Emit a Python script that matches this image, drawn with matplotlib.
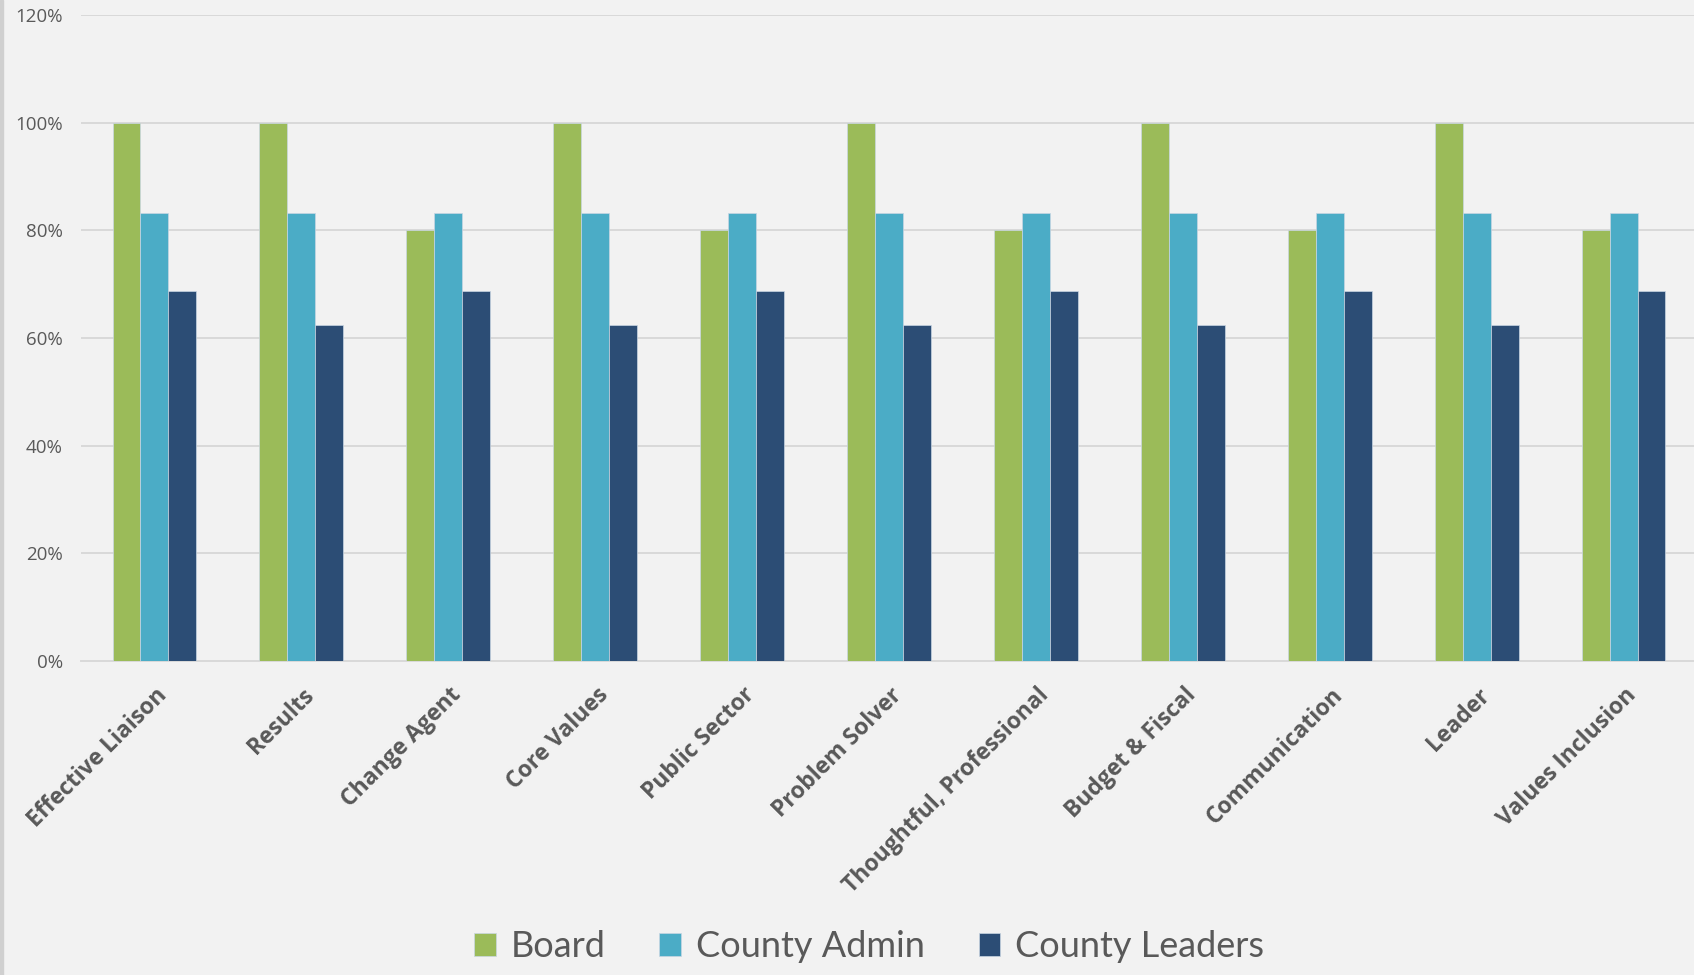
import numpy as np
import matplotlib.pyplot as plt
import matplotlib.transforms as mtransforms
from matplotlib.patches import Rectangle
from matplotlib.ticker import PercentFormatter

# data
categories = ['Effective Liaison', 'Results', 'Change Agent', 'Core Values', 'Public Sector',
              'Problem Solver', 'Thoughtful, Professional', 'Budget & Fiscal', 'Communication',
              'Leader', 'Values Inclusion']
board = [100, 100, 80, 100, 80, 100, 80, 100, 80, 100, 80]
county_admin = [83.3, 83.3, 83.3, 83.3, 83.3, 83.3, 83.3, 83.3, 83.3, 83.3, 83.3]
county_leaders = [68.75, 62.5, 68.75, 62.5, 68.75, 62.5, 68.75, 62.5, 68.75, 62.5, 68.75]
series_names = ['Board', 'County Admin', 'County Leaders']
colors = ['#9BBB59', '#4BACC6', '#2C4D75']

bg = '#F2F2F2'
txt = '#595959'

fig = plt.figure(figsize=(16.94, 9.75), dpi=100, facecolor=bg)
ax = fig.add_axes([0.0478, 0.322, 0.954, 0.6626])
ax.set_facecolor(bg)

x = np.arange(len(categories))
w = 0.19
for k, (vals, name, col) in enumerate(zip([board, county_admin, county_leaders], series_names, colors)):
    ax.bar(x + (k - 1) * w, vals, width=w, color=col, edgecolor='#C9D6E3', linewidth=0.5,
           label=name, zorder=3)

ax.set_xlim(-0.5, len(categories) - 0.5)
ax.set_ylim(0, 120)
ax.set_yticks(np.arange(0, 121, 20))
ax.yaxis.set_major_formatter(PercentFormatter(decimals=0))
ax.grid(axis='y', color='#D9D9D9', linewidth=1.4, zorder=0)
for s in ['top', 'right', 'left']:
    ax.spines[s].set_visible(False)
ax.spines['bottom'].set_color('#D9D9D9')
ax.spines['bottom'].set_linewidth(1.4)
ax.tick_params(axis='both', length=0)
ax.tick_params(axis='y', pad=13, labelsize=13.5, labelcolor=txt)
for lbl in ax.get_yticklabels():
    lbl.set_fontfamily('Open Sans')

ax.set_xticks(x)
ax.set_xticklabels(categories, rotation=45, ha='right', va='top', rotation_mode='anchor',
                   fontsize=16.5, fontweight='bold', color=txt, family='Open Sans')
ax.tick_params(axis='x', pad=16)
offset = mtransforms.ScaledTranslation(1 / 100, 0, fig.dpi_scale_trans)
for lbl in ax.get_xticklabels():
    lbl.set_transform(lbl.get_transform() + offset)

leg = fig.legend(loc='center', bbox_to_anchor=(0.513, 0.029), ncol=3, frameon=False,
                 fontsize=26, handlelength=0.6, handleheight=0.6, handletextpad=0.4,
                 columnspacing=1.5)
for t in leg.get_texts():
    t.set_color(txt)
    t.set_fontfamily('Lato')

# chart area left border
fig.patches.append(Rectangle((0, 0), 0.0015, 1, transform=fig.transFigure,
                             color='#D0D0D0', zorder=0))

fig.savefig('out.png', dpi=100, facecolor=bg)
